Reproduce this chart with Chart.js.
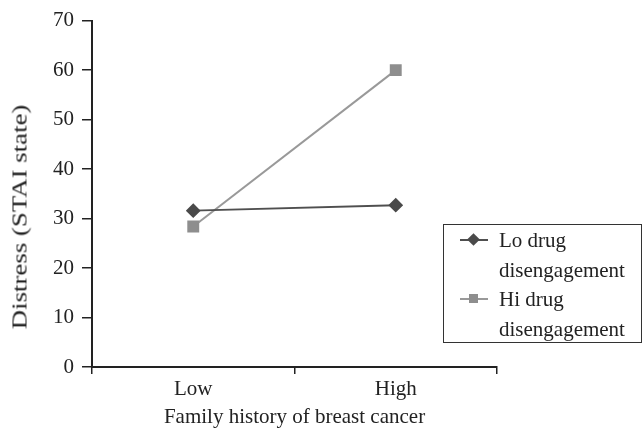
<!DOCTYPE html>
<html>
<head>
<meta charset="utf-8">
<script src="https://cdn.jsdelivr.net/npm/chart.js@4"></script>
<style>
  body { margin: 0; background: #fff; }
  #wrap { position: relative; width: 642px; height: 433px; }
  #ytitle {
    position: absolute; left: 20px; top: 217px;
    transform: translate(-50%, -50%) rotate(-90deg) scaleX(1.28);
    font: 21px "Liberation Serif", serif; color: #222; white-space: nowrap;
  }
  #legend {
    position: absolute; left: 443px; top: 224px; width: 197px; height: 117px;
    border: 1px solid #333; font: 21px "Liberation Serif", serif; color: #222;
  }
  .item { position: absolute; left: 55px; line-height: 30px; }
  .sym { position: absolute; left: 16px; width: 28px; height: 2px; }
  .sym i { position: absolute; left: 9px; top: -4px; width: 9px; height: 9px; }
</style>
</head>
<body>
<div id="wrap">
  <canvas id="chart" width="642" height="433"></canvas>
  <div id="ytitle">Distress (STAI state)</div>
  <div id="legend"></div>
</div>
<script>
// datos
const categorias = ['Low', 'High'];
const loDrug = [31.6, 32.7];
const hiDrug = [28.4, 60];
const nombres = [['Lo drug', 'disengagement'], ['Hi drug', 'disengagement']];
const colores = ['#4f4f4f', '#999999'];
const marcas = ['#4a4a4a', '#8e8e8e'];

const fuente = { family: 'Liberation Serif', size: 21 };

new Chart(document.getElementById('chart'), {
    type: 'line',
    data: {
        labels: categorias,
        datasets: [{
            label: nombres[0].join(' '),
            data: loDrug,
            borderColor: colores[0],
            borderWidth: 2,
            pointStyle: 'rectRot',
            pointRadius: 6,
            pointBackgroundColor: marcas[0],
            pointBorderColor: marcas[0]
        }, {
            label: nombres[1].join(' '),
            data: hiDrug,
            borderColor: colores[1],
            borderWidth: 2,
            pointStyle: 'rect',
            pointRadius: 7,
            pointBackgroundColor: marcas[1],
            pointBorderColor: marcas[1]
        }]
    },
    options: {
        responsive: false,
        animation: false,
        layout: { padding: { top: 14, right: 145, left: 0, bottom: 0 } },
        plugins: { legend: { display: false }, tooltip: { enabled: false } },
        scales: {
            x: {
                offset: true,
                grid: { offset: true, drawOnChartArea: false, tickLength: 7, color: '#222', lineWidth: 1.5 },
                border: { color: '#222', width: 2 },
                ticks: { font: fuente, color: '#222', padding: 3 },
                title: { display: true, text: 'Family history of breast cancer', font: fuente, color: '#222', padding: { top: 2, bottom: 3 } },
                afterFit: s => { s.height = 66; }
            },
            y: {
                min: 0, max: 70,
                grid: { drawOnChartArea: false, tickLength: 10, color: '#222', lineWidth: 1.5 },
                border: { color: '#222', width: 2 },
                ticks: { stepSize: 10, font: fuente, color: '#222', padding: 8 },
                afterFit: s => { s.width = 92; }
            }
        }
    }
});

// leyenda en html
const legend = document.getElementById('legend');
nombres.forEach((n, i) => {
    const top = i * 59;
    const item = document.createElement('div');
    item.className = 'item';
    item.style.top = top + 'px';
    item.innerHTML = n.join('<br>');
    legend.appendChild(item);
    const sym = document.createElement('div');
    sym.className = 'sym';
    sym.style.top = (top + 14) + 'px';
    sym.style.background = colores[i];
    sym.innerHTML = '<i style="background:' + marcas[i] + ';' + (i === 0 ? 'transform:rotate(45deg)' : '') + '"></i>';
    legend.appendChild(sym);
});
</script>
</body>
</html>
